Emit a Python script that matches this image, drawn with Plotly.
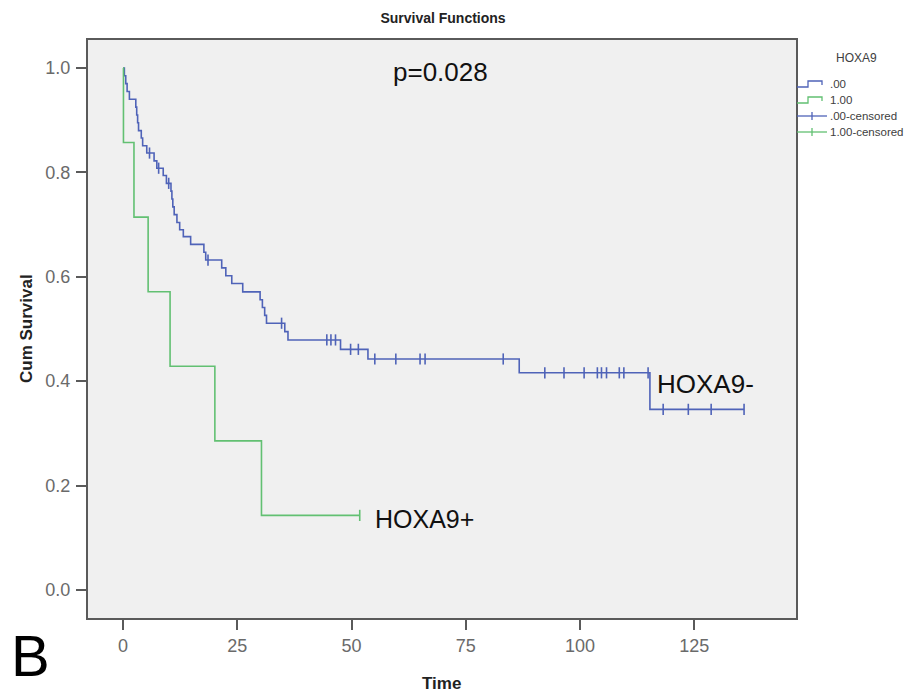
import plotly.graph_objects as go

# ---------------- data ----------------
# HOXA9- (".00") Kaplan-Meier step points: event time, survival after event
neg_event_times = [0.3, 0.6, 0.9, 1.4, 2.8, 3.0, 3.2, 3.4, 4.0, 4.3, 5.2, 6.8, 7.4,
                   8.8, 9.5, 10.5, 10.7, 10.9, 11.2, 11.8, 12.4, 13.2, 14.8, 17.7,
                   18.1, 21.6, 22.5, 23.8, 26.2, 30.0, 30.5, 31.0, 31.4, 35.4, 36.1,
                   47.6, 53.6, 86.7, 115.3]
neg_survival = [0.985, 0.970, 0.955, 0.940, 0.925, 0.910, 0.895, 0.880, 0.866, 0.851,
                0.837, 0.822, 0.808, 0.794, 0.779, 0.764, 0.749, 0.734, 0.719, 0.704,
                0.690, 0.677, 0.662, 0.647, 0.632, 0.617, 0.602, 0.587, 0.571, 0.556,
                0.541, 0.526, 0.511, 0.495, 0.479, 0.461, 0.4425, 0.416, 0.346]
neg_censor_times = [5.8, 7.8, 10.0, 18.6, 34.7, 44.6, 45.5, 46.5, 49.8, 51.5, 55.1,
                    59.7, 65.0, 66.1, 83.2, 92.3, 96.5, 100.9, 103.8, 104.7, 105.8,
                    108.6, 109.6, 114.9, 118.2, 123.7, 128.7, 135.9]

# HOXA9+ ("1.00")
pos_event_times = [0.1, 2.4, 5.5, 10.3, 20.1, 30.3]
pos_survival = [6/7, 5/7, 4/7, 3/7, 2/7, 1/7]
pos_censor_times = [51.8]

x_ticks = [0, 25, 50, 75, 100, 125]
y_ticks = [0.0, 0.2, 0.4, 0.6, 0.8, 1.0]
legend_title = "HOXA9"
legend_labels = [".00", "1.00", ".00-censored", "1.00-censored"]

BLUE = "#4f63b8"
GREEN = "#62c072"


def km_curve(times, surv, censors):
    xs, ys = [0.0], [1.0]
    for t, s in zip(times, surv):
        xs.append(t)
        ys.append(s)
    end = max(censors + times)
    xs.append(end)
    ys.append(ys[-1])
    return xs, ys


def surv_at(t, times, surv):
    s = 1.0
    for et, es in zip(times, surv):
        if et <= t:
            s = es
    return s


fig = go.Figure()
for times, surv, cens, col in [
    (neg_event_times, neg_survival, neg_censor_times, BLUE),
    (pos_event_times, pos_survival, pos_censor_times, GREEN),
]:
    xs, ys = km_curve(times, surv, cens)
    fig.add_trace(go.Scatter(x=xs, y=ys, mode="lines", line=dict(color=col, width=1.6, shape="hv"),
                             showlegend=False, hoverinfo="skip"))
    fig.add_trace(go.Scatter(x=cens, y=[surv_at(c, times, surv) for c in cens], mode="markers",
                             marker=dict(symbol="line-ns", size=8, line=dict(color=col, width=1.6)),
                             showlegend=False, hoverinfo="skip"))

# page body has an 8px margin: figure drawn 8px in from top-left of the window
OFF = 8
W, H = 923 - OFF, 693 - OFF
L, T = 88 - OFF, 40 - OFF
R = W - (796 - OFF)
B = H - (618 - OFF)
PW, PH = W - L - R, H - T - B


def px(x):  # reference window pixel x -> paper
    return (x - OFF - L) / PW


def py(y):  # reference window pixel y -> paper
    return (H - B - (y - OFF)) / PH


shapes = []
leg_y = [84, 100, 116, 132]
for yy, col in [(leg_y[0], BLUE), (leg_y[1], GREEN)]:
    path = "M {} {} L {} {} L {} {} L {} {} L {} {}".format(
        px(797), py(yy + 3), px(808), py(yy + 3), px(808), py(yy - 3),
        px(822), py(yy - 3), px(822), py(yy + 1))
    shapes.append(dict(type="path", xref="paper", yref="paper", path=path,
                       line=dict(color=col, width=1.3)))
for yy, col in [(leg_y[2], BLUE), (leg_y[3], GREEN)]:
    shapes.append(dict(type="line", xref="paper", yref="paper", x0=px(797), x1=px(827),
                       y0=py(yy), y1=py(yy), line=dict(color=col, width=1.3)))
    shapes.append(dict(type="line", xref="paper", yref="paper", x0=px(812), x1=px(812),
                       y0=py(yy - 4), y1=py(yy + 4), line=dict(color=col, width=1.3)))

annotations = [
    dict(text=legend_title, xref="paper", yref="paper", x=px(856), y=py(58), showarrow=False,
         font=dict(size=12, color="#404040"), xanchor="center", yanchor="middle"),
]
for yy, lab in zip(leg_y, legend_labels):
    annotations.append(dict(text=lab, xref="paper", yref="paper", x=px(828), y=py(yy),
                            showarrow=False, font=dict(size=11.5, color="#404040"),
                            xanchor="left", yanchor="middle"))
annotations += [
    dict(text="p=0.028", xref="x", yref="y", x=69.4, y=0.992, showarrow=False,
         font=dict(size=26, color="#111"), xanchor="center", yanchor="middle"),
    dict(text="HOXA9-", xref="x", yref="y", x=116.4, y=0.395, showarrow=False,
         font=dict(size=26, color="#111"), xanchor="left", yanchor="middle"),
    dict(text="HOXA9+", xref="x", yref="y", x=54.6, y=0.136, showarrow=False,
         font=dict(size=25, color="#111"), xanchor="left", yanchor="middle"),
    dict(text="B", xref="paper", yref="paper", x=px(10), y=py(655), showarrow=False,
         font=dict(size=58, color="#000"), xanchor="left", yanchor="middle", borderpad=0),
    dict(text="<b>Time</b>", xref="paper", yref="paper", x=px(441), y=py(683), showarrow=False,
         font=dict(size=17, color="#222"), xanchor="center", yanchor="middle"),
    dict(text="<b>Cum Survival</b>", xref="paper", yref="paper", x=px(26), y=py(329),
         showarrow=False, textangle=-90, font=dict(size=17, color="#222"),
         xanchor="center", yanchor="middle"),
]

axis_common = dict(showline=True, mirror=True, linecolor="#5a5a5a", linewidth=2,
                   showgrid=False, zeroline=False, ticks="outside", ticklen=10,
                   tickwidth=1.5, tickcolor="#5a5a5a",
                   tickfont=dict(size=18, color="#6a6a6a"))

fig.update_layout(
    width=W, height=H,
    margin=dict(l=L, r=R, t=T, b=B, autoexpand=False),
    paper_bgcolor="white", plot_bgcolor="#f0f0f0",
    font=dict(family="Liberation Sans, Arial, sans-serif"),
    title=dict(text="<b>Survival Functions</b>", x=(443 - OFF) / W, y=1 - (18 - OFF) / H,
               xanchor="center", yanchor="middle", font=dict(size=14, color="#222")),
    xaxis=dict(range=[-35 / 4.57, (796 - 123) / 4.57], tickvals=x_ticks,
               ticktext=[str(v) for v in x_ticks], **axis_common),
    yaxis=dict(range=[-0.0537, 1.0536], tickvals=y_ticks,
               ticktext=["{:.1f}".format(v) for v in y_ticks], ticklabelstandoff=2, **axis_common),
    shapes=shapes, annotations=annotations,
)

fig.write_html("out.html")
